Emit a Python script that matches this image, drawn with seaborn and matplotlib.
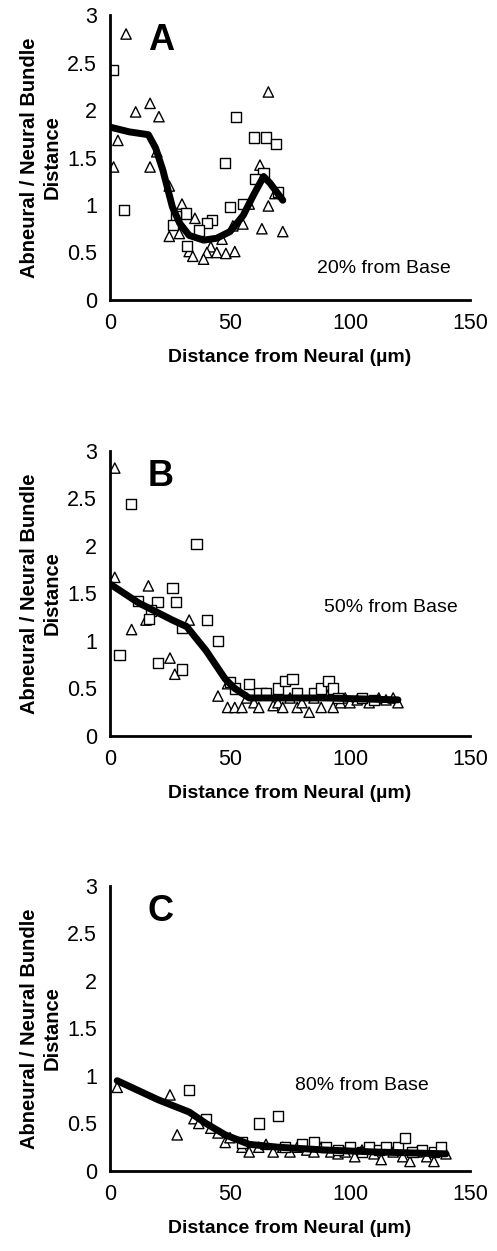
import numpy as np
import pandas as pd
import matplotlib
matplotlib.use("Agg")
import matplotlib.pyplot as plt
import seaborn as sns

# ---- panel A (20% from base) ----
a_tri_x = [6.7, 10.7, 16.7, 20.4, 3.3, 1.5, 19.5, 16.7, 24.7, 62.5, 66, 68.7, 66, 58, 30, 35.4, 55.4, 51.2,
           63.3, 72, 24.7, 28.9, 46.7, 42, 33, 40.4, 34.5, 44.5, 48.3, 52, 39]
a_tri_y = [2.80, 1.98, 2.07, 1.93, 1.68, 1.40, 1.56, 1.40, 1.20, 1.42, 2.19, 1.12, 0.99, 1.01, 1.01, 0.86, 0.80, 0.78,
           0.75, 0.72, 0.67, 0.70, 0.64, 0.56, 0.51, 0.50, 0.46, 0.50, 0.49, 0.51, 0.43]
a_sq_x = [1.2, 5.8, 52.5, 60, 65, 69.2, 48, 64, 60.4, 70, 50, 55.4, 31.7, 27.5, 42.5, 40.4, 26.4, 37, 32]
a_sq_y = [2.42, 0.95, 1.93, 1.71, 1.71, 1.64, 1.44, 1.33, 1.27, 1.14, 0.98, 1.01, 0.91, 0.88, 0.84, 0.81, 0.79, 0.73, 0.57]
a_line_x = [0, 8, 16, 19, 22, 26, 29, 33, 39, 44.5, 50, 55.5, 59.7, 64, 66.7, 72]
a_line_y = [1.82, 1.77, 1.74, 1.60, 1.37, 0.98, 0.81, 0.68, 0.63, 0.65, 0.72, 0.89, 1.10, 1.30, 1.23, 1.05]

# ---- panel B (50% from base) ----
b_tri_x = [2, 2, 9, 15, 16, 25, 27, 33, 45, 49, 49, 52, 55, 57, 60, 62, 65, 68, 70, 72, 75, 78, 80, 83,
           85, 88, 90, 93, 96, 98, 100, 103, 108, 112, 115, 118, 120]
b_tri_y = [2.82, 1.67, 1.12, 1.22, 1.58, 0.82, 0.65, 1.22, 0.42, 0.55, 0.30, 0.30, 0.30, 0.40, 0.35, 0.30, 0.45,
           0.32, 0.35, 0.30, 0.40, 0.30, 0.35, 0.25, 0.40, 0.30, 0.45, 0.30, 0.35, 0.40, 0.35, 0.38, 0.35,
           0.40, 0.38, 0.40, 0.35]
b_sq_x = [8.7, 36, 4, 11.8, 19.8, 26, 27.5, 17, 16.3, 40.4, 30, 20, 30, 45, 50, 52, 58, 62, 65, 70, 73, 76,
          78, 85, 88, 91, 93, 95, 105, 110]
b_sq_y = [2.44, 2.02, 0.85, 1.42, 1.41, 1.56, 1.41, 1.32, 1.23, 1.22, 1.14, 0.77, 0.70, 1.00, 0.57, 0.50, 0.55,
          0.45, 0.45, 0.50, 0.58, 0.60, 0.45, 0.45, 0.50, 0.58, 0.50, 0.40, 0.40, 0.38]
b_line_x = [0, 12, 26, 32, 40, 48, 52, 58, 70, 90, 120]
b_line_y = [1.60, 1.40, 1.22, 1.15, 0.90, 0.60, 0.50, 0.40, 0.40, 0.40, 0.38]

# ---- panel C (80% from base) ----
c_tri_x = [3, 25, 28, 35, 37, 42, 45, 48, 50, 55, 58, 62, 65, 68, 72, 75, 78, 82, 85, 88, 92, 95, 98,
           102, 105, 110, 113, 118, 122, 125, 128, 132, 135, 140]
c_tri_y = [0.88, 0.80, 0.38, 0.55, 0.50, 0.45, 0.40, 0.30, 0.35, 0.25, 0.20, 0.25, 0.28, 0.20, 0.25, 0.20,
           0.25, 0.22, 0.20, 0.25, 0.20, 0.18, 0.20, 0.15, 0.22, 0.18, 0.12, 0.20, 0.15, 0.10, 0.20, 0.15,
           0.10, 0.18]
c_sq_x = [33, 40, 62, 70, 55, 73, 80, 85, 90, 95, 100, 105, 108, 112, 115, 120, 123, 126, 130, 135, 138]
c_sq_y = [0.85, 0.55, 0.50, 0.58, 0.30, 0.25, 0.28, 0.30, 0.25, 0.22, 0.25, 0.20, 0.25, 0.22, 0.25, 0.25,
          0.35, 0.20, 0.22, 0.20, 0.25]
c_line_x = [3, 20, 33, 40, 48, 58, 70, 90, 110, 140]
c_line_y = [0.95, 0.75, 0.62, 0.50, 0.38, 0.28, 0.25, 0.22, 0.20, 0.18]

panels = [
    ("A", "20% from Base", a_tri_x, a_tri_y, a_sq_x, a_sq_y, a_line_x, a_line_y, (0.76, 0.11)),
    ("B", "50% from Base", b_tri_x, b_tri_y, b_sq_x, b_sq_y, b_line_x, b_line_y, (0.78, 0.45)),
    ("C", "80% from Base", c_tri_x, c_tri_y, c_sq_x, c_sq_y, c_line_x, c_line_y, (0.70, 0.30)),
]

sns.set_style("white")
plt.rcParams["font.family"] = ["Liberation Sans", "DejaVu Sans"]
plt.rcParams["text.color"] = "black"
plt.rcParams["axes.labelcolor"] = "black"
plt.rcParams["xtick.color"] = "black"
plt.rcParams["ytick.color"] = "black"

fig = plt.figure(figsize=(4.97, 12.51), dpi=100)
bottoms = [0.7602, 0.4117, 0.0640]

for (letter, note, tx, ty, sx, sy, lx, ly, notepos), bot in zip(panels, bottoms):
    ax = fig.add_axes([0.2213, bot, 0.7243, 0.2278])
    pts = pd.DataFrame({
        "x": tx + sx,
        "y": ty + sy,
        "kind": ["tri"] * len(tx) + ["sq"] * len(sx),
    })
    sns.scatterplot(data=pts, x="x", y="y", style="kind", markers={"tri": "^", "sq": "s"},
                    facecolor="white", edgecolor="black", linewidth=1.0, s=55,
                    legend=False, ax=ax, zorder=2)
    sns.lineplot(x=lx, y=ly, color="black", linewidth=5, ax=ax, zorder=3,
                 solid_capstyle="round", solid_joinstyle="round")

    ax.set_xlim(0, 150)
    ax.set_ylim(0, 3)
    ax.set_xticks([0, 50, 100, 150])
    ax.set_yticks([0, 0.5, 1, 1.5, 2, 2.5, 3])
    ax.set_yticklabels(["0", "0.5", "1", "1.5", "2", "2.5", "3"])
    ax.tick_params(direction="inout", length=5, width=1.5, labelsize=15.5, pad=7,
                   color="black", labelcolor="black")
    for s in ["top", "right"]:
        ax.spines[s].set_visible(False)
    for s in ["left", "bottom"]:
        ax.spines[s].set_linewidth(2)
        ax.spines[s].set_color("black")
    ax.set_xlabel("Distance from Neural (\u00b5m)", fontsize=14, fontweight="bold", labelpad=11)
    ax.set_ylabel("Abneural / Neural Bundle\nDistance", fontsize=14.5, fontweight="bold", labelpad=4)
    ax.text(0.105, 0.91, letter, transform=ax.transAxes, fontsize=26, fontweight="heavy",
            va="center", ha="left")
    ax.text(notepos[0], notepos[1], note, transform=ax.transAxes, fontsize=14,
            va="center", ha="center")

plt.savefig("out.png", dpi=100)
